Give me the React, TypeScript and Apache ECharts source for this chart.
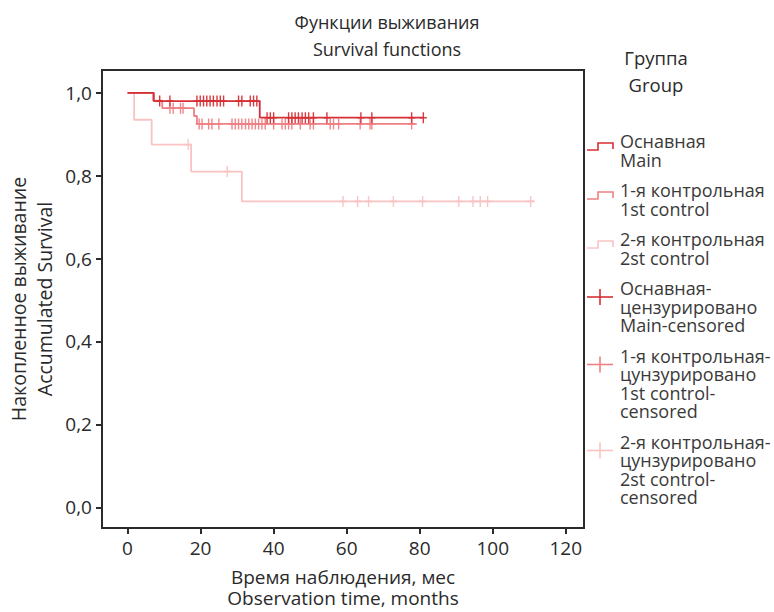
import React, { useEffect, useRef } from "react";
import * as echarts from "echarts";

// ---- Data ----
const mainTimes = [0, 7.2, 36.2, 81];
const mainSurv = [1, 0.98, 0.94, 0.94];
const mainCensored = [
  8.8, 11.6, 19.0, 19.9, 20.8, 21.7, 22.6, 23.5, 24.5, 25.4, 26.3, 30.4, 31.3, 33.6, 34.5, 35.4,
  38.2, 39.1, 40.0, 44.1, 45.0, 45.9, 46.8, 47.8, 48.7, 49.6, 50.9, 54.6, 63.9, 66.9, 77.8, 81.0,
];

const ctrl1Times = [0, 7.0, 9.5, 18.2, 19.0, 79.2];
const ctrl1Surv = [1, 0.981, 0.963, 0.944, 0.925, 0.925];
const ctrl1Censored = [
  11.6, 12.5, 14.5, 15.2,
  19.6, 20.4, 22.2, 23.1, 25.0, 28.6, 29.5, 30.4, 31.3, 32.3, 33.2, 34.1, 35.0, 35.9, 36.8, 37.7,
  40.0, 42.3, 43.2, 44.1, 45.0, 47.3, 50.0, 50.9, 55.5, 56.4, 57.8, 63.7, 66.4, 66.9, 77.8,
];

const ctrl2Times = [0, 1.8, 6.6, 17.4, 31.3, 111.5];
const ctrl2Surv = [1, 0.935, 0.875, 0.81, 0.738, 0.738];
const ctrl2Censored = [16.6, 27.3, 59, 63, 66, 72.8, 80.8, 90.7, 94.6, 96.6, 98.6, 110.4];

const xTicks = [0, 20, 40, 60, 80, 100, 120];
const yTicks = [0, 0.2, 0.4, 0.6, 0.8, 1.0];

const titleLines = ["Функции выживания", "Survival functions"];
const xNameLines = ["Время наблюдения, мес", "Observation time, months"];
const yNameLines = ["Накопленное выживание", "Accumulated Survival"];
const legendTitleLines = ["Группа", "Group"];

const seriesNames = ["Оснавная", "1-я контрольная", "2-я контрольная"];
const legendLabels = [
  ["Оснавная", "Main"],
  ["1-я контрольная", "1st control"],
  ["2-я контрольная", "2st control"],
  ["Оснавная-", "цензурировано", "Main-censored"],
  ["1-я контрольная-", "цунзурировано", "1st control-", "censored"],
  ["2-я контрольная-", "цунзурировано", "2st control-", "censored"],
];

// ---- Styles ----
const COLORS = ["#d62f36", "#ee8084", "#f9c3c4"];
const FONT = "'Open Sans', 'Noto Sans', sans-serif";
const TEXT = "#2a2a2a";
const CROSS = "path://M0,4.3H10V5.7H0Z M4,0H6V10H4Z";

function survAt(times: number[], surv: number[], t: number) {
  let s = surv[0];
  for (let i = 0; i < times.length; i++) if (times[i] <= t) s = surv[i];
  return s;
}

function buildLegendGraphics() {
  const els: any[] = [];
  const lh = 18.5;
  const gap = 12;
  let c = 141;
  legendLabels.forEach((lines, i) => {
    const color = COLORS[i % 3];
    const isCensor = i >= 3;
    els.push({
      type: "text",
      style: {
        text: lines.join("\n"),
        x: 620,
        y: c - lh / 2,
        font: `18px ${FONT}`,
        lineHeight: lh,
        fill: "#3a3a3a",
        verticalAlign: "top",
        align: "left",
      },
    });
    if (!isCensor) {
      els.push({
        type: "polyline",
        shape: { points: [[587, c + 9], [598, c + 9], [598, c + 2], [613, c + 2], [613, c + 8]] },
        style: { stroke: color, lineWidth: 1.6, fill: "none" },
      });
    } else {
      const cy = c + 9;
      els.push({
        type: "line",
        shape: { x1: 587, y1: cy, x2: 613, y2: cy },
        style: { stroke: color, lineWidth: 1.6 },
      });
      els.push({
        type: "line",
        shape: { x1: 600, y1: cy - 8, x2: 600, y2: cy + 8 },
        style: { stroke: color, lineWidth: 1.6 },
      });
    }
    c += lines.length * lh + gap;
  });
  els.push({
    type: "text",
    style: {
      text: legendTitleLines.join("\n"),
      x: 656,
      y: 44,
      font: `18.5px ${FONT}`,
      lineHeight: 27,
      fill: TEXT,
      align: "center",
      verticalAlign: "top",
    },
  });
  return els;
}

export default function App() {
  const ref = useRef<HTMLDivElement>(null);
  useEffect(() => {
    if (!ref.current) return;
    const chart = echarts.init(ref.current, undefined, { renderer: "svg" });

    const curves = [
      { times: mainTimes, surv: mainSurv, cens: mainCensored },
      { times: ctrl1Times, surv: ctrl1Surv, cens: ctrl1Censored },
      { times: ctrl2Times, surv: ctrl2Surv, cens: ctrl2Censored },
    ];

    const series: any[] = [];
    // draw lightest first so main is on top
    [2, 1, 0].forEach((i) => {
      const cv = curves[i];
      series.push({
        name: seriesNames[i],
        type: "line",
        step: "end",
        showSymbol: false,
        symbol: "none",
        data: cv.times.map((t, k) => [t, cv.surv[k]]),
        lineStyle: { color: COLORS[i], width: 1.8 },
        itemStyle: { color: COLORS[i] },
        z: 2 + (2 - i),
        silent: true,
      });
      series.push({
        name: seriesNames[i] + "-цензурировано",
        type: "scatter",
        symbol: CROSS,
        symbolSize: [7, 11],
        symbolKeepAspect: false,
        data: cv.cens.map((t) => [t, survAt(cv.times, cv.surv, t)]),
        itemStyle: { color: COLORS[i], opacity: 0.95 },
        z: 3 + (2 - i),
        silent: true,
      });
    });

    const axisLine = { show: true, onZero: false, lineStyle: { color: "#2b2b2b", width: 2 } };
    chart.setOption({
      animation: false,
      backgroundColor: "#ffffff",
      textStyle: { fontFamily: FONT },
      title: {
        text: titleLines.join("\n"),
        left: "center",
        top: 3,
        textStyle: { fontSize: 18, fontWeight: "normal", color: TEXT, lineHeight: 27, fontFamily: FONT },
      },
      grid: {
        left: 102,
        top: 70,
        width: 482,
        height: 458,
        containLabel: false,
        outerBoundsMode: "none",
        show: true,
        borderColor: "#2b2b2b",
        borderWidth: 2,
        backgroundColor: "transparent",
      },
      xAxis: {
        type: "value",
        min: -7,
        max: 125,
        name: xNameLines.join("\n"),
        nameLocation: "middle",
        nameGap: 38,
        nameMoveOverlap: false,
        nameTextStyle: { fontSize: 19, color: TEXT, lineHeight: 21, fontFamily: FONT },
        axisLine,
        axisTick: { show: true, customValues: xTicks, length: 6, inside: false, lineStyle: { color: "#2b2b2b", width: 2 } },
        axisLabel: { customValues: xTicks, fontSize: 19, color: TEXT, margin: 10, fontFamily: FONT },
        splitLine: { show: false },
      },
      yAxis: {
        type: "value",
        min: -0.05,
        max: 1.055,
        name: yNameLines.join("\n"),
        nameLocation: "middle",
        nameRotate: 90,
        nameGap: 45,
        nameMoveOverlap: false,
        nameTextStyle: { fontSize: 19.5, color: TEXT, lineHeight: 26, fontFamily: FONT },
        axisLine,
        axisTick: { show: true, customValues: yTicks, length: 6, inside: false, lineStyle: { color: "#2b2b2b", width: 2 } },
        axisLabel: {
          customValues: yTicks,
          fontSize: 19,
          color: TEXT,
          margin: 10,
          fontFamily: FONT,
          formatter: (v: number) => v.toFixed(1).replace(".", ","),
        },
        splitLine: { show: false },
      },
      graphic: buildLegendGraphics(),
      series,
    });
    return () => chart.dispose();
  }, []);
  return (
    <div
      ref={ref}
      style={{ position: "fixed", left: 0, top: 0, width: 774, height: 612, background: "#fff" }}
    />
  );
}
